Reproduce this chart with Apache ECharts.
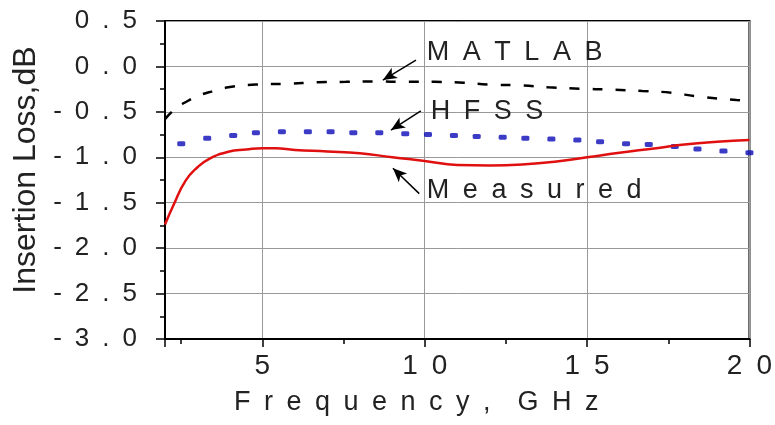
<!DOCTYPE html>
<html>
<head>
<meta charset="utf-8">
<script src="https://cdn.jsdelivr.net/npm/echarts@6/dist/echarts.min.js"></script>
<style>
  html, body { margin: 0; padding: 0; background: #fff; }
  #chart { width: 775px; height: 425px; }
</style>
</head>
<body>
<div id="chart"></div>
<script>
// values
const measuredFreq = [2, 2.27, 2.63, 3.0, 3.35, 3.95, 4.5, 5.0, 5.4, 6.0, 7.0, 8.0, 9.0, 10.0, 11.0, 12.0, 13.0, 14.0, 15.0, 16.0, 17.0, 18.0, 19.0, 20.0];
const measuredLoss = [-1.74, -1.52, -1.26, -1.11, -1.02, -0.94, -0.915, -0.90, -0.90, -0.92, -0.935, -0.955, -1.0, -1.04, -1.085, -1.09, -1.08, -1.05, -1.0, -0.95, -0.905, -0.86, -0.83, -0.81];

const hfssFreq = [2.5, 3.3, 4.1, 4.8, 5.6, 6.4, 7.1, 7.8, 8.6, 9.4, 10.1, 10.9, 11.6, 12.4, 13.1, 13.9, 14.7, 15.4, 16.2, 16.9, 17.7, 18.4, 19.2, 20];
const hfssLoss = [-0.85, -0.79, -0.76, -0.73, -0.72, -0.72, -0.72, -0.73, -0.73, -0.74, -0.75, -0.76, -0.77, -0.78, -0.79, -0.80, -0.81, -0.83, -0.85, -0.86, -0.88, -0.91, -0.93, -0.95];

const matlabFreq = [2.0, 2.3, 2.6, 3.05, 3.5, 3.95, 4.8, 5.76, 6.7, 7.57, 8.5, 9.4, 10.3, 11.2, 12.0, 13.0, 13.8, 14.8, 15.7, 16.7, 17.6, 18.4, 19.6, 20];
const matlabLoss = [-0.58, -0.47, -0.40, -0.32, -0.27, -0.23, -0.20, -0.19, -0.175, -0.17, -0.165, -0.17, -0.17, -0.18, -0.20, -0.21, -0.23, -0.245, -0.255, -0.27, -0.29, -0.33, -0.37, -0.38];

// annotation text and arrows (data coords): [label, textAt, arrowFrom, arrowTo]
const notes = [
  ['MATLAB', [10.05, 0.15], [9.73, 0.07], [8.71, -0.15]],
  ['HFSS', [10.17, -0.50], [9.88, -0.49], [8.96, -0.70]],
  ['Measured', [10.05, -1.37], [9.83, -1.40], [9.02, -1.12]]
];

const FONT = "'Liberation Sans', Arial, sans-serif";
const spaced = s => String(s).split('').join('\u2002');
const pairs = (xs, ys) => xs.map((x, i) => [x, ys[i]]);

const chart = echarts.init(document.getElementById('chart'));

chart.setOption({
  animation: false,
  grid: {
    left: 165, right: 20, top: 21, bottom: 86,
    show: true, borderColor: '#000', borderWidth: 2
  },
  xAxis: {
    type: 'value',
    min: 2, max: 20,
    splitNumber: 4, minInterval: 5, maxInterval: 5,
    name: 'F\u2002r\u2002e\u2002q\u2002u\u2002e\u2002n\u2002c\u2002y\u2002,\u2002\u2002G\u2002H\u2002z',
    nameLocation: 'middle',
    nameGap: 50,
    nameTextStyle: { fontFamily: FONT, fontSize: 27, color: '#222', padding: [0, 82, 0, 0] },
    axisLine: { onZero: false, lineStyle: { color: '#000', width: 2 } },
    axisTick: { inside: false, length: 8, lineStyle: { color: '#000', width: 1.5 } },
    minorTick: { show: true, splitNumber: 2, length: 5, lineStyle: { color: '#000', width: 1.5 } },
    axisLabel: {
      showMinLabel: false,
      margin: 13,
      fontFamily: FONT, fontSize: 28, color: '#222',
      formatter: v => spaced(v)
    },
    splitLine: { show: true, lineStyle: { color: '#999', width: 1 } }
  },
  yAxis: {
    type: 'value',
    min: -3, max: 0.5, interval: 0.5,
    name: 'Insertion Loss,dB',
    nameLocation: 'middle',
    nameGap: 122,
    nameTextStyle: { fontFamily: FONT, fontSize: 32, color: '#222', padding: [0, 0, 0, 20] },
    axisLine: { onZero: false, lineStyle: { color: '#000', width: 2 } },
    axisTick: { inside: false, length: 9, lineStyle: { color: '#000', width: 1.5 } },
    minorTick: { show: true, splitNumber: 2, length: 5, lineStyle: { color: '#000', width: 1.5 } },
    axisLabel: {
      margin: 28,
      fontFamily: FONT, fontSize: 26, color: '#222',
      formatter: v => spaced(v.toFixed(1))
    },
    splitLine: { show: true, lineStyle: { color: '#999', width: 1 } }
  },
  series: [
    {
      name: 'MATLAB',
      type: 'line',
      data: pairs(matlabFreq, matlabLoss),
      smooth: true,
      showSymbol: false,
      lineStyle: { color: '#000', width: 2.5, type: [10, 13] },
      markLine: {
        silent: true,
        symbol: ['none', 'arrow'],
        symbolSize: [9, 14],
        label: { show: false },
        lineStyle: { color: '#000', width: 1.5, type: 'solid' },
        data: notes.map(n => [{ coord: n[2] }, { coord: n[3] }])
      },
      markPoint: {
        silent: true,
        symbol: 'circle',
        symbolSize: 1,
        itemStyle: { color: 'rgba(0,0,0,0)' },
        label: {
          show: true, position: 'right', distance: 0,
          fontFamily: FONT, fontSize: 27, color: '#222'
        },
        data: notes.map(n => ({ coord: n[1], label: { formatter: spaced(n[0]) } }))
      }
    },
    {
      name: 'HFSS',
      type: 'scatter',
      data: pairs(hfssFreq, hfssLoss),
      symbol: 'roundRect',
      symbolSize: [8, 5],
      itemStyle: { color: '#0a0ab8' }
    },
    {
      name: 'Measured',
      type: 'line',
      data: pairs(measuredFreq, measuredLoss),
      smooth: true,
      showSymbol: false,
      lineStyle: { color: '#e01010', width: 2.5 }
    }
  ]
});

window.addEventListener('resize', () => chart.resize());
</script>
</body>
</html>
